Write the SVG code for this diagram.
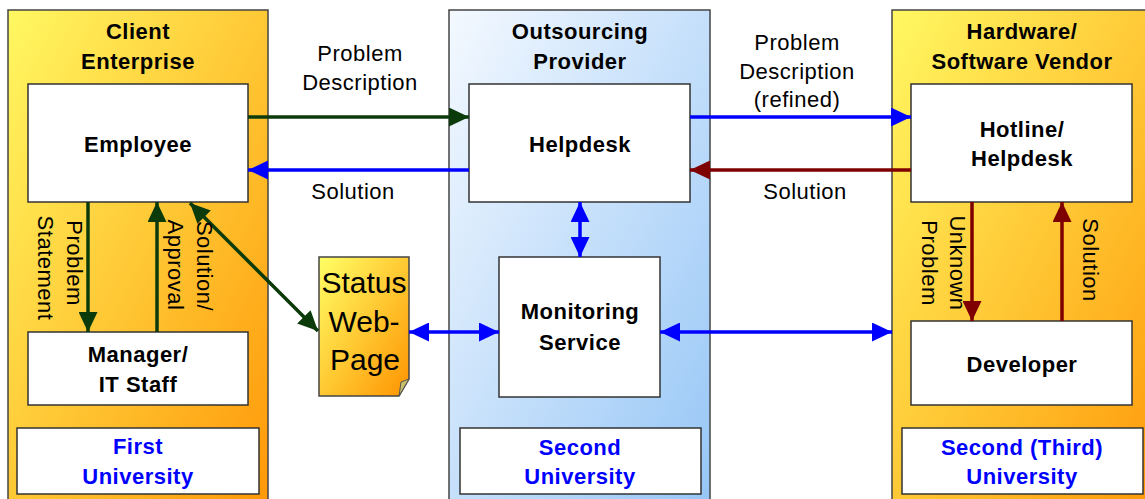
<svg xmlns="http://www.w3.org/2000/svg" width="1145" height="499" viewBox="0 0 1145 499">
<defs>
<linearGradient id="gOrange" x1="0" y1="0" x2="1" y2="1">
<stop offset="0" stop-color="#FFF862"/>
<stop offset="1" stop-color="#FF9808"/>
</linearGradient>
<linearGradient id="gBlue" x1="0" y1="0" x2="1" y2="1">
<stop offset="0" stop-color="#F4F9FF"/>
<stop offset="1" stop-color="#96C6F6"/>
</linearGradient>
<linearGradient id="gPage" x1="0" y1="0" x2="1" y2="1">
<stop offset="0" stop-color="#FFFF66"/>
<stop offset="1" stop-color="#FF9400"/>
</linearGradient>
<marker id="aGreen" markerUnits="userSpaceOnUse" markerWidth="20" markerHeight="19" refX="20" refY="9.5" orient="auto-start-reverse"><path d="M0,0 L20,9.5 L0,19 z" fill="#0B3B0B"/></marker>
<marker id="aBlue" markerUnits="userSpaceOnUse" markerWidth="20" markerHeight="19" refX="20" refY="9.5" orient="auto-start-reverse"><path d="M0,0 L20,9.5 L0,19 z" fill="#0000FF"/></marker>
<marker id="aRed" markerUnits="userSpaceOnUse" markerWidth="20" markerHeight="19" refX="20" refY="9.5" orient="auto-start-reverse"><path d="M0,0 L20,9.5 L0,19 z" fill="#7F0000"/></marker>
</defs>
<style>
text{font-family:"Liberation Sans",Arial,sans-serif;font-size:22px;letter-spacing:0.5px;text-anchor:middle;fill:#000}
.b{font-weight:bold}
.u{font-weight:bold;fill:#0000FF}
.cont{stroke:#444;stroke-width:1.5}
.box{fill:#fff;stroke:#333;stroke-width:1.5}
.c{fill:none;stroke-width:3.5}
.g{stroke:#0B3B0B}
.bl{stroke:#0000FF}
.r{stroke:#7F0000}
</style>
<rect width="1145" height="499" fill="#fff"/>

<g id="client">
<rect class="cont" x="8" y="10" width="260" height="495" fill="url(#gOrange)"/>
<text class="b" x="138" y="39">Client</text>
<text class="b" x="138" y="69">Enterprise</text>
</g>
<g id="provider">
<rect class="cont" x="449" y="10" width="261" height="495" fill="url(#gBlue)"/>
<text class="b" x="580" y="39">Outsourcing</text>
<text class="b" x="580" y="69">Provider</text>
</g>
<g id="vendor">
<rect class="cont" x="892" y="10" width="270" height="495" fill="url(#gOrange)"/>
<text class="b" x="1022" y="39">Hardware/</text>
<text class="b" x="1022" y="69">Software Vendor</text>
</g>

<g id="employee">
<rect class="box" x="28" y="84" width="220" height="118"/>
<text class="b" x="138" y="152">Employee</text>
</g>
<g id="manager">
<rect class="box" x="28" y="332" width="220" height="73"/>
<text class="b" x="138" y="362">Manager/</text>
<text class="b" x="138" y="392">IT Staff</text>
</g>
<g id="first-university">
<rect class="box" x="17" y="428" width="242" height="66"/>
<text class="u" x="138" y="454">First</text>
<text class="u" x="138" y="484">University</text>
</g>
<g id="helpdesk">
<rect class="box" x="469" y="84" width="221" height="118"/>
<text class="b" x="580" y="152">Helpdesk</text>
</g>
<g id="monitoring">
<rect class="box" x="499" y="257" width="161" height="140"/>
<text class="b" x="580" y="319">Monitoring</text>
<text class="b" x="580" y="350">Service</text>
</g>
<g id="second-university">
<rect class="box" x="460" y="428" width="241" height="66"/>
<text class="u" x="580" y="455">Second</text>
<text class="u" x="580" y="484">University</text>
</g>
<g id="status-page">
<path d="M319,257 H409 V379 L399,396 H319 Z" fill="url(#gPage)" stroke="#444" stroke-width="1.5"/>
<path d="M409,379 L399,396 L401,382 Z" fill="#C9BF6A" stroke="#555" stroke-width="1"/>
<text x="364" y="293" style="font-size:30px;letter-spacing:0">Status</text>
<text x="364" y="332" style="font-size:30px;letter-spacing:0">Web-</text>
<text x="365" y="370" style="font-size:30px;letter-spacing:0">Page</text>
</g>
<g id="hotline">
<rect class="box" x="911" y="84" width="221" height="118"/>
<text class="b" x="1022" y="137">Hotline/</text>
<text class="b" x="1022" y="166">Helpdesk</text>
</g>
<g id="developer">
<rect class="box" x="911" y="321" width="221" height="84"/>
<text class="b" x="1022" y="372">Developer</text>
</g>
<g id="third-university">
<rect class="box" x="902" y="428" width="241" height="66"/>
<text class="u" x="1022" y="455">Second (Third)</text>
<text class="u" x="1022" y="484">University</text>
</g>

<g id="connectors">
<path class="c g" d="M248,117 H469" marker-end="url(#aGreen)"/>
<path class="c bl" d="M469,170 H248" marker-end="url(#aBlue)"/>
<path class="c bl" d="M690,117 H911" marker-end="url(#aBlue)"/>
<path class="c r" d="M911,170 H690" marker-end="url(#aRed)"/>
<path class="c bl" d="M580,202 V257" marker-start="url(#aBlue)" marker-end="url(#aBlue)"/>
<path class="c bl" d="M409,332 H499" marker-start="url(#aBlue)" marker-end="url(#aBlue)"/>
<path class="c bl" d="M660,332 H892" marker-start="url(#aBlue)" marker-end="url(#aBlue)"/>
<path class="c g" d="M88,202 V332" marker-end="url(#aGreen)"/>
<path class="c g" d="M157,332 V202" marker-end="url(#aGreen)"/>
<path class="c g" d="M190,203 L318,331" marker-start="url(#aGreen)" marker-end="url(#aGreen)"/>
<path class="c r" d="M972,202 V321" marker-end="url(#aRed)"/>
<path class="c r" d="M1062,321 V202" marker-end="url(#aRed)"/>

<text x="360" y="61">Problem</text>
<text x="360" y="90">Description</text>
<text x="353" y="199">Solution</text>
<text x="797" y="50">Problem</text>
<text x="797" y="79">Description</text>
<text x="797" y="107">(refined)</text>
<text x="805" y="199">Solution</text>
<text transform="translate(67,263) rotate(90)">Problem</text>
<text transform="translate(38,268) rotate(90)">Statement</text>
<text transform="translate(197,266) rotate(90)">Solution/</text>
<text transform="translate(168,265) rotate(90)">Approval</text>
<text transform="translate(950,263) rotate(90)">Unknown</text>
<text transform="translate(922,263) rotate(90)">Problem</text>
<text transform="translate(1083,260) rotate(90)">Solution</text>
</g>
</svg>
